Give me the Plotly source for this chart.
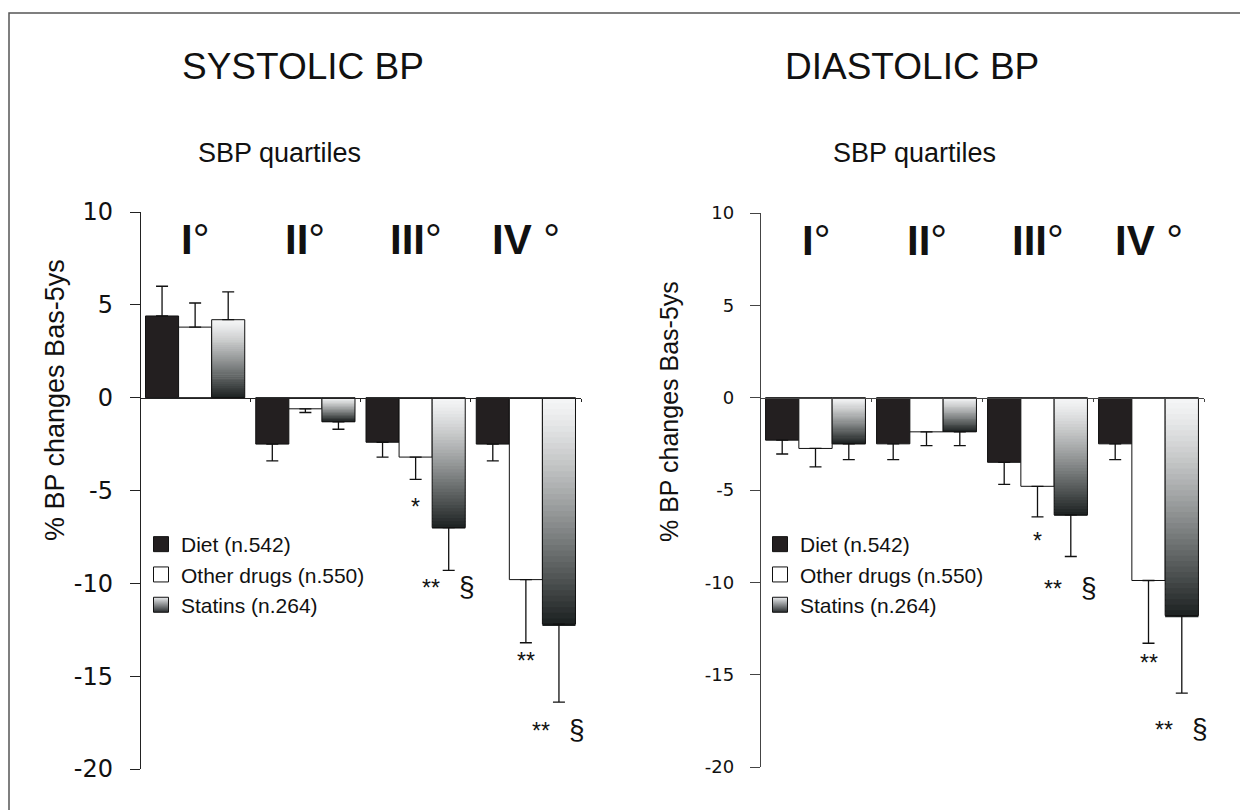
import numpy as np
import plotly.graph_objects as go

# ---------------- data ----------------
quartiles = ["I", "II", "III", "IV"]
series_names = ["Diet (n.542)", "Other drugs (n.550)", "Statins (n.264)"]

sys_diet = [4.4, -2.5, -2.4, -2.5]
sys_diet_err = [1.6, 0.9, 0.8, 0.9]
sys_other = [3.8, -0.6, -3.2, -9.8]
sys_other_err = [1.3, 0.2, 1.2, 3.4]
sys_statins = [4.2, -1.3, -7.0, -12.2]
sys_statins_err = [1.5, 0.4, 2.3, 4.2]

dia_diet = [-2.3, -2.5, -3.5, -2.5]
dia_diet_err = [0.75, 0.85, 1.2, 0.85]
dia_other = [-2.75, -1.85, -4.8, -9.9]
dia_other_err = [1.0, 0.75, 1.65, 3.4]
dia_statins = [-2.5, -1.85, -6.35, -11.8]
dia_statins_err = [0.85, 0.75, 2.25, 4.2]

# significance marks: (series index, quartile index, text)
sys_marks = [(1, 2, "*"), (2, 2, "**"), (1, 3, "**"), (2, 3, "**")]
dia_marks = [(1, 2, "*"), (2, 2, "**"), (1, 3, "**"), (2, 3, "**")]
sec_marks = [(2, 2), (2, 3)]  # '§' marks

y_ticks = [10, 5, 0, -5, -10, -15, -20]

# ---------------- style ----------------
W, H = 1240, 810
DIET_COLOR = "#231f20"
OTHER_COLOR = "#ffffff"
GRAD_TOP = np.array([246, 247, 248])
GRAD_BOT = np.array([28, 33, 33])
NSEG = 40
BAR_W = 0.30
OFFSETS = [-0.45, -0.15, 0.15]
YR = [-20, 10]
SANS = "Liberation Sans, Arial, Helvetica, sans-serif"

panels = [
    dict(name="SYSTOLIC BP", diet=sys_diet, diet_e=sys_diet_err, other=sys_other,
         other_e=sys_other_err, stat=sys_statins, stat_e=sys_statins_err,
         marks=sys_marks, xpx=(140, 581), ypx=(212, 769), tick_font=24,
         tickfam="DejaVu Sans", axcolor="#222", title_x=303, sub_x=279,
         ytitle_x=55, ytitle_y=400, ytitle_size=27, legx=141,
         mark_shift={(1, 2): -28, (2, 2): -16, (1, 3): -18, (2, 3): -27}),
    dict(name="DIASTOLIC BP", diet=dia_diet, diet_e=dia_diet_err, other=dia_other,
         other_e=dia_other_err, stat=dia_statins, stat_e=dia_statins_err,
         marks=dia_marks, xpx=(760, 1204), ypx=(213, 767), tick_font=18,
         tickfam="DejaVu Sans", axcolor="#444", title_x=912, sub_x=914,
         ytitle_x=669, ytitle_y=412, ytitle_size=25, legx=760,
         mark_shift={(1, 2): -24, (2, 2): -31, (1, 3): -20, (2, 3): -35}),
]

fig = go.Figure()
annotations = []
shapes = []
x_idx = np.arange(len(quartiles))


def grad_color(t):
    t = t ** 1.2
    c = GRAD_TOP + (GRAD_BOT - GRAD_TOP) * t
    return "rgb(%d,%d,%d)" % tuple(c.astype(int))


for p_i, P in enumerate(panels):
    sfx = "" if p_i == 0 else "2"
    xa, ya = "x" + sfx, "y" + sfx
    leg = "legend" if p_i == 0 else "legend2"

    # diet bars
    fig.add_trace(go.Bar(
        x=x_idx, y=P["diet"], base=0, offset=OFFSETS[0], width=BAR_W,
        marker=dict(color=DIET_COLOR, line=dict(color="#111", width=1)),
        xaxis=xa, yaxis=ya, showlegend=False, hoverinfo="skip"))
    # other bars
    fig.add_trace(go.Bar(
        x=x_idx, y=P["other"], base=0, offset=OFFSETS[1], width=BAR_W,
        marker=dict(color=OTHER_COLOR, line=dict(color="#111", width=1)),
        xaxis=xa, yaxis=ya, showlegend=False, hoverinfo="skip"))
    # statins bars: vertical gradient built from stacked slices
    vals = np.array(P["stat"], dtype=float)
    top = np.maximum(vals, 0)
    height = np.abs(vals)
    for k in range(NSEG):
        seg_top = top - height * k / NSEG
        fig.add_trace(go.Bar(
            x=x_idx, y=-(height / NSEG) * 1.3, base=seg_top, offset=OFFSETS[2],
            width=BAR_W, marker=dict(color=grad_color((k + 0.5) / NSEG), line=dict(width=0)),
            xaxis=xa, yaxis=ya, showlegend=False, hoverinfo="skip"))
    fig.add_trace(go.Bar(
        x=x_idx, y=vals, base=0, offset=OFFSETS[2], width=BAR_W,
        marker=dict(color="rgba(0,0,0,0)", line=dict(color="#111", width=1)),
        xaxis=xa, yaxis=ya, showlegend=False, hoverinfo="skip"))

    # error bars (one-sided, away from zero)
    for s_i, (v, e) in enumerate([(P["diet"], P["diet_e"]), (P["other"], P["other_e"]),
                                  (P["stat"], P["stat_e"])]):
        v = np.array(v); e = np.array(e)
        plus = np.where(v > 0, e, 0)
        minus = np.where(v < 0, e, 0)
        fig.add_trace(go.Scatter(
            x=x_idx + OFFSETS[s_i] + BAR_W / 2, y=v, mode="markers",
            marker=dict(size=1, color="rgba(0,0,0,0)"),
            error_y=dict(type="data", symmetric=False, array=plus, arrayminus=minus,
                         color="#111", thickness=1.3, width=6),
            xaxis=xa, yaxis=ya, showlegend=False, hoverinfo="skip"))

    # legend entries
    leg_specs = [
        dict(color=DIET_COLOR),
        dict(color=OTHER_COLOR),
        dict(color="rgb(235,237,239)", gradient=dict(type="vertical", color="rgb(40,44,46)")),
    ]
    for name, spec in zip(series_names, leg_specs):
        mk = dict(symbol="square", size=15, line=dict(color="#111", width=1))
        mk.update(spec)
        fig.add_trace(go.Scatter(
            x=[None], y=[None], mode="markers", name=name, marker=mk,
            xaxis=xa, yaxis=ya, legend=leg, showlegend=True))

    # axes geometry
    x0, x1 = P["xpx"][0] / W, P["xpx"][1] / W
    yb, yt = (H - P["ypx"][1]) / H, (H - P["ypx"][0]) / H
    xpos0 = yb + (0 - YR[0]) / (YR[1] - YR[0]) * (yt - yb)
    xkey = "xaxis" + sfx
    ykey = "yaxis" + sfx
    fig.update_layout(**{
        xkey: dict(domain=[x0, x1], range=[-0.5, len(quartiles) - 0.5], anchor="free",
                   position=xpos0, showline=True, linecolor=P["axcolor"], linewidth=1.3,
                   showgrid=False, zeroline=False, tickmode="array", automargin=False,
                   tickvals=list(x_idx + 0.5), ticks="outside", ticklen=3,
                   tickcolor=P["axcolor"], showticklabels=False, fixedrange=True),
        ykey: dict(domain=[yb, yt], range=YR, anchor="free", position=x0,
                   showline=True, linecolor=P["axcolor"], linewidth=1.3, showgrid=False,
                   zeroline=False, tickmode="array", tickvals=y_ticks, automargin=False,
                   ticktext=[str(t) for t in y_ticks], ticks="outside", ticklen=10,
                   tickcolor=P["axcolor"], tickwidth=1.3, ticklabelstandoff=12,
                   tickfont=dict(family=P["tickfam"], size=P["tick_font"], color="#111"),
                   fixedrange=True),
    })

    # titles
    annotations.append(dict(text=P["name"], x=P["title_x"] / W, y=(H - 66) / H,
                            xref="paper", yref="paper", showarrow=False,
                            xanchor="center", yanchor="middle",
                            font=dict(family=SANS, size=37, color="#111")))
    annotations.append(dict(text="SBP quartiles", x=P["sub_x"] / W, y=(H - 153) / H,
                            xref="paper", yref="paper", showarrow=False,
                            xanchor="center", yanchor="middle",
                            font=dict(family=SANS, size=27, color="#111")))
    annotations.append(dict(text="% BP changes Bas-5ys", x=P["ytitle_x"] / W,
                            y=(H - P["ytitle_y"]) / H, xref="paper", yref="paper",
                            xanchor="center", yanchor="middle",
                            showarrow=False, textangle=-90,
                            font=dict(family=SANS, size=P["ytitle_size"], color="#111")))
    # quartile labels
    for q_i, q in enumerate(quartiles):
        txt = "<b>%s</b>%s°" % (q, " " if q == "IV" else "")
        annotations.append(dict(text=txt, x=q_i, y=YR[1], xref=xa, yref=ya,
                                xanchor="center", yanchor="top", yshift=-2, showarrow=False,
                                font=dict(family=SANS, size=42, color="#111")))
    # significance marks
    series_vals = [(P["diet"], P["diet_e"]), (P["other"], P["other_e"]), (P["stat"], P["stat_e"])]
    secs = set(sec_marks)
    for s_i, q_i, txt in P["marks"]:
        v, e = series_vals[s_i]
        yend = v[q_i] - e[q_i]
        xc = q_i + OFFSETS[s_i] + BAR_W / 2
        if (s_i, q_i) in secs:
            full = txt + "&nbsp;&nbsp;&nbsp;<span style='font-size:28px'>§</span>"
        else:
            full = txt
        annotations.append(dict(text=full, x=xc, y=yend, xref=xa, yref=ya,
                                xanchor="center", yanchor="middle",
                                yshift=P["mark_shift"][(s_i, q_i)], showarrow=False,
                                font=dict(family=SANS, size=23, color="#111")))

# frame
shapes.append(dict(type="rect", xref="paper", yref="paper", x0=9 / W, x1=1.02,
                   y0=-0.05, y1=(H - 13) / H, line=dict(color="#555", width=1.5),
                   fillcolor="rgba(0,0,0,0)"))

leg_common = dict(bgcolor="rgba(0,0,0,0)", borderwidth=0, itemclick=False,
                  itemdoubleclick=False, tracegroupgap=0, itemsizing="trace",
                  font=dict(family=SANS, size=21, color="#111"),
                  xanchor="left", yanchor="top")
fig.update_layout(
    width=W, height=H, margin=dict(l=0, r=0, t=0, b=0, pad=0, autoexpand=False),
    paper_bgcolor="white", plot_bgcolor="rgba(0,0,0,0)",
    barmode="overlay", showlegend=True,
    legend=dict(x=panels[0]["legx"] / W, y=(H - 524) / H, **leg_common),
    legend2=dict(x=panels[1]["legx"] / W, y=(H - 524) / H, **leg_common),
    annotations=annotations, shapes=shapes,
)

fig.write_html("out.html")
